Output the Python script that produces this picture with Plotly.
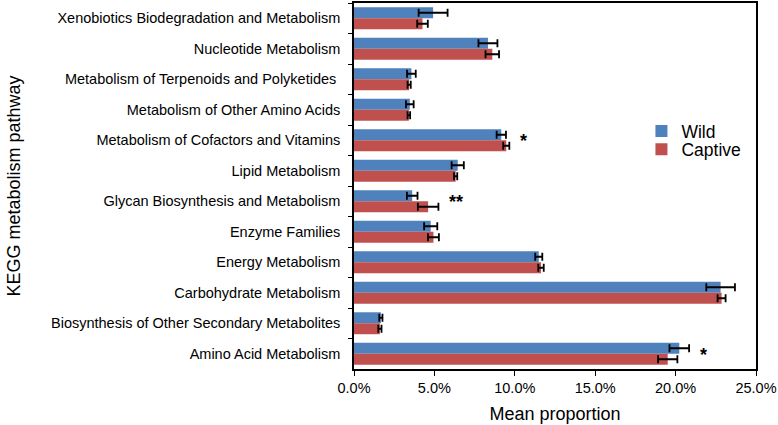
import plotly.graph_objects as go

categories = [
    "Xenobiotics Biodegradation and Metabolism",
    "Nucleotide Metabolism",
    "Metabolism of Terpenoids and Polyketides ",
    "Metabolism of Other Amino Acids",
    "Metabolism of Cofactors and Vitamins",
    "Lipid Metabolism",
    "Glycan Biosynthesis and Metabolism",
    "Enzyme Families",
    "Energy Metabolism",
    "Carbohydrate Metabolism",
    "Biosynthesis of Other Secondary Metabolites",
    "Amino Acid Metabolism",
]
wild_mean = [4.92, 8.33, 3.57, 3.47, 9.16, 6.45, 3.62, 4.77, 11.49, 22.80, 1.67, 20.23]
wild_err = [0.90, 0.59, 0.27, 0.24, 0.29, 0.38, 0.33, 0.41, 0.22, 0.89, 0.10, 0.61]
captive_mean = [4.26, 8.60, 3.43, 3.41, 9.47, 6.32, 4.61, 4.94, 11.63, 22.86, 1.61, 19.51]
captive_err = [0.33, 0.42, 0.10, 0.08, 0.19, 0.10, 0.64, 0.34, 0.17, 0.25, 0.10, 0.60]
significance = {
    "Metabolism of Cofactors and Vitamins": "*",
    "Glycan Biosynthesis and Metabolism": "**",
    "Amino Acid Metabolism": "*",
}
x_ticks = [0, 5, 10, 15, 20, 25]

FONT = "Liberation Sans, Arial, Helvetica, sans-serif"
BLUE = "#4F81BD"
RED = "#C0504D"

fig = go.Figure()
fig.add_trace(go.Bar(
    name="Wild", y=categories, x=wild_mean, orientation="h",
    marker=dict(color=BLUE, line=dict(width=0)),
    error_x=dict(type="data", array=wild_err, color="black", thickness=1.8, width=4),
    legend="legend",
))
fig.add_trace(go.Bar(
    name="Captive", y=categories, x=captive_mean, orientation="h",
    marker=dict(color=RED, line=dict(width=0)),
    error_x=dict(type="data", array=captive_err, color="black", thickness=1.8, width=4),
    legend="legend2",
))

for i, cat in enumerate(categories):
    if cat in significance:
        top = max(wild_mean[i] + wild_err[i], captive_mean[i] + captive_err[i])
        fig.add_annotation(
            x=top, y=cat, text="<b>" + significance[cat] + "</b>",
            showarrow=False, xanchor="left", xshift=9, yshift=-1,
            font=dict(family=FONT, size=18, color="black"),
        )

legend_style = dict(
    xanchor="left", yanchor="middle",
    font=dict(family=FONT, size=17.5, color="black"),
    bgcolor="rgba(0,0,0,0)", itemwidth=30,
)

fig.update_layout(
    width=778, height=425,
    margin=dict(l=354, r=21, t=1, b=56),
    barmode="group", bargap=0.28, bargroupgap=0.0,
    plot_bgcolor="white", paper_bgcolor="white",
    font=dict(family=FONT, size=14.5, color="black"),
    showlegend=True,
    legend=dict(x=0.715, y=0.65, **legend_style),
    legend2=dict(x=0.715, y=0.60, **legend_style),
    xaxis=dict(
        range=[0, 25], tickvals=x_ticks,
        ticktext=[f"{v:.1f}%" for v in x_ticks],
        showgrid=False, zeroline=False,
        showline=True, linecolor="black", linewidth=1.5, mirror=True,
        ticks="outside", ticklen=5, tickcolor="black", tickwidth=1.2,
        tickfont=dict(family=FONT, size=14.5),
        title=dict(text="Mean proportion", font=dict(family=FONT, size=18), standoff=12),
    ),
    yaxis=dict(
        autorange="reversed", showgrid=False,
        showline=True, linecolor="black", linewidth=1.5, mirror=True,
        ticks="outside", ticklen=4, tickcolor="black", tickwidth=1.2,
        tickson="boundaries", ticklabelstandoff=9,
        tickfont=dict(family=FONT, size=14.5),
        title=dict(text="KEGG metabolism pathway", font=dict(family=FONT, size=18), standoff=26),
    ),
)

fig.write_html(
    "out.html",
    config={"displayModeBar": False},
    post_script="document.body.style.margin='0';",
)
